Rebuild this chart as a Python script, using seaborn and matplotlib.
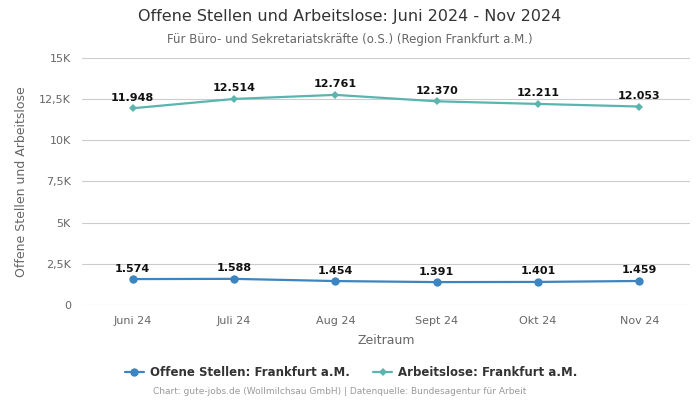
import matplotlib
matplotlib.use("Agg")
import matplotlib.pyplot as plt
import seaborn as sns
import pandas as pd
from matplotlib.ticker import FuncFormatter

# --- Daten ---
monate = ["Juni 24", "Juli 24", "Aug 24", "Sept 24", "Okt 24", "Nov 24"]
offene_stellen = [1574, 1588, 1454, 1391, 1401, 1459]
arbeitslose = [11948, 12514, 12761, 12370, 12211, 12053]
y_ticks = [0, 2500, 5000, 7500, 10000, 12500, 15000]
y_tick_labels = ["0", "2,5K", "5K", "7,5K", "10K", "12,5K", "15K"]

label_os = "Offene Stellen: Frankfurt a.M."
label_al = "Arbeitslose: Frankfurt a.M."

df = pd.DataFrame({
    "Zeitraum": monate * 2,
    "Wert": offene_stellen + arbeitslose,
    "Reihe": [label_os] * len(monate) + [label_al] * len(monate),
})
df["x"] = list(range(len(monate))) * 2

sns.set_style("white")
plt.rcParams["font.family"] = ["DejaVu Sans"]

fig = plt.figure(figsize=(7, 4), dpi=100)
ax = fig.add_axes([82 / 700, 1 - 305 / 400, 608 / 700, 247 / 400])

farben = {label_os: "#3d85c0", label_al: "#5ab5ae"}
marker = {label_os: "o", label_al: "D"}
msize = {label_os: 6, label_al: 4}

for reihe in [label_os, label_al]:
    sub = df[df["Reihe"] == reihe]
    sns.lineplot(data=sub, x="x", y="Wert", ax=ax, color=farben[reihe],
                 marker=marker[reihe], markersize=msize[reihe], linewidth=1.6,
                 markeredgewidth=0, label=reihe)
    for xi, v in zip(sub["x"], sub["Wert"]):
        txt = f"{v:,}".replace(",", ".")
        ax.annotate(txt, (xi, v), xytext=(0, 4), textcoords="offset points",
                    ha="center", va="bottom", fontsize=8, fontweight="bold",
                    color="#111111")

ax.set_xlim(-0.5, len(monate) - 0.5)
ax.set_ylim(0, 15000)
ax.set_xticks(range(len(monate)))
ax.set_xticklabels(monate)
ax.set_yticks(y_ticks)
ax.yaxis.set_major_formatter(FuncFormatter(lambda v, p: y_tick_labels[y_ticks.index(int(v))] if int(v) in y_ticks else ""))
ax.grid(axis="y", color="#cccccc", linewidth=0.8)
ax.tick_params(axis="both", colors="#666666", labelsize=8, length=0, pad=8)
for s in ax.spines.values():
    s.set_visible(False)
ax.set_xlabel("Zeitraum", fontsize=9, color="#666666", labelpad=6)
ax.set_ylabel("Offene Stellen und Arbeitslose", fontsize=9, color="#666666", labelpad=8)

leg = ax.legend(loc="center", bbox_to_anchor=((351 - 82) / 608, -68 / 247), ncol=2,
                frameon=False, fontsize=8.5, handlelength=1.6, columnspacing=2.0,
                handletextpad=0.5)
for t in leg.get_texts():
    t.set_fontweight("bold")
    t.set_color("#333333")

fig.text(0.5, 1 - 17 / 400, "Offene Stellen und Arbeitslose: Juni 2024 - Nov 2024",
         ha="center", va="center", fontsize=11.5, color="#333333")
fig.text(0.5, 1 - 39 / 400, "Für Büro- und Sekretariatskräfte (o.S.) (Region Frankfurt a.M.)",
         ha="center", va="center", fontsize=8.5, color="#666666")
fig.text(340 / 700, 1 - 392 / 400, "Chart: gute-jobs.de (Wollmilchsau GmbH) | Datenquelle: Bundesagentur für Arbeit",
         ha="center", va="center", fontsize=6.5, color="#999999")

fig.savefig("out.png", dpi=100)
